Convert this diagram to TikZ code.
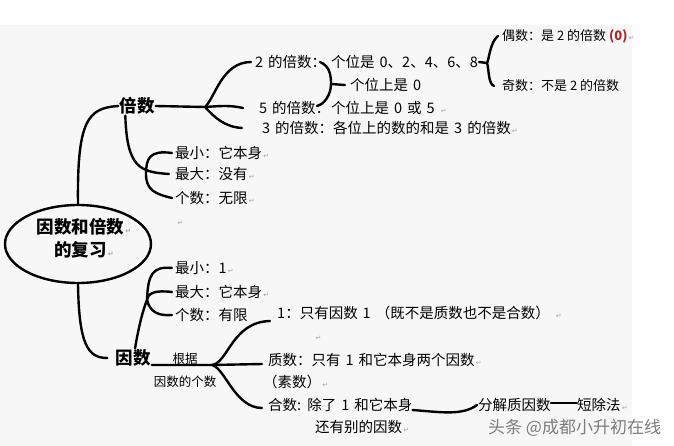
\documentclass[tikz,border=0pt]{standalone}
\usepackage{fontspec}
\setmainfont{Noto Sans CJK SC}
\newfontfamily\symfont{DejaVu Sans}
\usepackage{xcolor}
\usepackage{tikz}
\usetikzlibrary{arrows.meta,positioning,shapes.geometric}
\definecolor{bgc}{RGB}{247,247,247}
\definecolor{wmc}{RGB}{125,125,125}
\definecolor{zerored}{RGB}{170,40,40}
\newcommand{\rmk}{{\symfont\fontsize{7}{7}\selectfont\color{gray!70}\,↵}}
\newcommand{\txtfont}{\fontsize{14.5}{16}\selectfont\spaceskip=5pt plus 1pt\relax}
\tikzset{
  txt/.style={anchor=west,inner sep=0pt,font=\txtfont},
  sml/.style={inner sep=0pt,font=\fontsize{12.5}{14}\selectfont},
  head/.style={inner sep=1pt,font=\bfseries\fontsize{17.5}{23}\selectfont},
  br/.style={line width=2.4pt,line cap=round},
}

\begin{document}
\begin{tikzpicture}[x=1pt,y=-1pt,>=Latex]
  \useasboundingbox (0,0) rectangle (674,446);
  \fill[white] (0,0) rectangle (674,446);
  \fill[bgc] (0,25) rectangle (632,446);
  % Root
  \node[ellipse,draw,line width=2.4pt,minimum width=146pt,minimum height=78pt,inner sep=0pt] (root) at (78,244) {};
  \node[head,align=center] (roottxt) at (84,238) {因数和倍数\rmk\\的复习\rmk};
  \node[head] (bei) at (137,106) {倍数};
  \node[head] (yin) at (133,358) {因数};
  % Multiples
  \node[txt] (b2) at (255,62) {2 的倍数：};
  \node[txt] (b2r) at (331,62) {个位是 0、2、4、6、8};
  \node[txt] (be0) at (350,85) {个位上是 0};
  \node[txt] (b5) at (259,108) {5 的倍数：};
  \node[txt] (b5r) at (331,108) {个位上是 0 或 5 \rmk};
  \node[txt] (b3) at (262,128) {3 的倍数：各位上的数的和是 3 的倍数\rmk};
  \node[txt,font=\fontsize{13}{15}\selectfont] (eo) at (502,36) {偶数：是 2 的倍数 {\color{zerored}\bfseries (0)}\rmk};
  \node[txt,font=\fontsize{13}{15}\selectfont] (od) at (502,86) {奇数：不是 2 的倍数};
  \node[txt] (bmin) at (175,153) {最小：它本身\rmk};
  \node[txt] (bmax) at (175,174) {最大：没有\rmk};
  \node[txt] (bcnt) at (175,198) {个数：无限\rmk};
  \node[inner sep=0pt] (rk1) at (180,223) {\rmk};
  % Factors
  \node[txt] (fmin) at (175,268) {最小：1\rmk};
  \node[txt] (fmax) at (175,292) {最大：它本身\rmk};
  \node[txt] (fcnt) at (175,315) {个数：有限};
  \node[sml] (gj) at (185,359) {根据};
  \node[sml] (ys) at (185,382) {因数的个数};
  \node[txt] (one) at (277,313) {1：只有因数 1 （既不是质数也不是合数） \rmk};
  \node[inner sep=0pt] (rk2) at (318,338) {\rmk};
  \node[txt] (pr) at (268,360) {质数：只有 1 和它本身两个因数\rmk};
  \node[txt] (su) at (263,382) {（素数）\rmk};
  \node[txt] (comp) at (268,405) {合数: 除了 1 和它本身};
  \node[txt] (hy) at (315,427) {还有别的因数\rmk};
  \node[txt] (fj) at (478,405) {分解质因数};
  \node[txt] (dc) at (577,405) {短除法\rmk};
  \node[anchor=west,inner sep=0pt,font=\fontsize{17}{19}\selectfont,text=wmc] (wm) at (488,428) {头条 @成都小升初在线};
  % Root to the two heads
  \draw[br] (root.north) .. controls (77,120) and (88,108) .. (bei.west);
  \draw[br] (root.south) .. controls (79,345) and (88,358) .. ([xshift=-7pt]yin.west);
  % Branches of 倍数
  \coordinate (hb) at (205,107);
  \draw[br] (bei.east) -- (hb);
  \draw[br] (hb) .. controls (215,98) and (222,62) .. ([xshift=-4pt]b2.west);
  \draw[br] (hb) .. controls (220,106) and (230,105) .. ([xshift=-16pt]b5.west);
  \draw[br] (hb) .. controls (215,118) and (225,127) .. ([xshift=-20pt]b3.west);
  \draw[br] ([xshift=7pt]bei.south west) .. controls (127,168) and (140,172) .. ([xshift=-6pt]bmax.west);
  \coordinate (bk) at (146,174);
  \draw[br] ([xshift=-3pt]bmin.west) .. controls (150,150) and (146,158) .. (bk)
    .. controls (146,190) and (155,194) .. ([xshift=-3pt]bcnt.west);
  % Braces on the right
  \coordinate (t2) at (320,62);
  \coordinate (bj) at (331,84);
  \coordinate (t5) at (317,106);
  \draw[br] (t2) .. controls (330,66) and (331,76) .. (bj) .. controls (331,94) and (325,104) .. (t5);
  \draw[br] (bj) -- ([xshift=-5pt]be0.west);
  \coordinate (e8) at (487,63);
  \draw[br] ([xshift=1pt]b2r.east) -- (e8);
  \draw[br] ([xshift=-4pt]eo.west) .. controls (490,42) and (489,60) .. (e8)
    .. controls (489,68) and (488,84) .. ([xshift=-8pt]od.west);
  % Branches of 因数
  \coordinate (fk) at (147,300);
  \draw[br] ([xshift=2pt]yin.north) .. controls (139,325) and (143,310) .. (fk);
  \draw[br] (fk) .. controls (148,275) and (152,266) .. ([xshift=-3pt]fmin.west);
  \draw[br] (fk) .. controls (148,293) and (155,290) .. ([xshift=-3pt]fmax.west);
  \draw[br] (fk) .. controls (150,312) and (158,316) .. ([xshift=-3pt]fcnt.west);
  \coordinate (hf) at (212,365);
  \draw[br] ([yshift=-7pt]yin.east) -- (hf) -- ([xshift=-6pt,yshift=-4pt]pr.west);
  \draw[br] (hf) .. controls (228,363) and (232,322) .. ([xshift=-7pt,yshift=-8pt]one.west);
  \draw[br] (hf) .. controls (225,368) and (235,408) .. ([xshift=-6pt,yshift=-3pt]comp.west);
  \draw[br] ([yshift=-5pt]comp.east) .. controls (440,412) and (462,416) .. ([xshift=-1pt]fj.west);
  \draw[br] ([yshift=2pt]fj.east) -- ([yshift=2pt]dc.west);
\end{tikzpicture}
\end{document}
